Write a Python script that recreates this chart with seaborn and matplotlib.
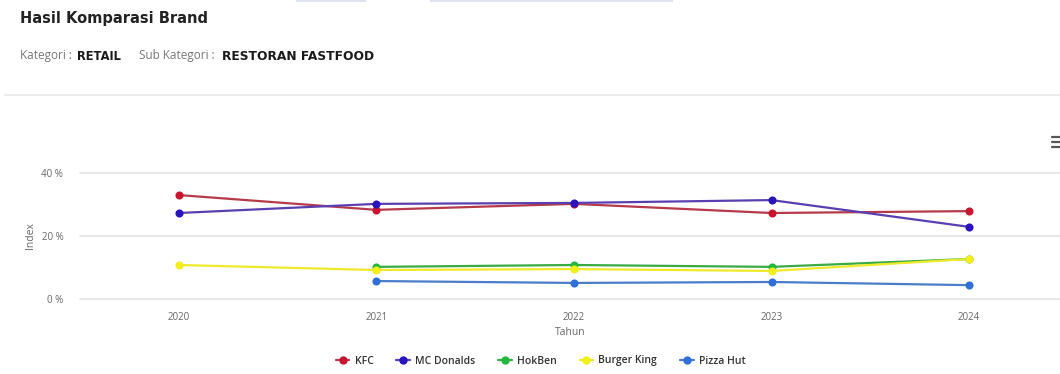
import matplotlib
matplotlib.use("Agg")
import matplotlib.pyplot as plt
from matplotlib.lines import Line2D
from matplotlib.patches import Rectangle
import seaborn as sns
import pandas as pd
import numpy as np

years = [2020, 2021, 2022, 2023, 2024]
kfc = [33.0, 28.3, 30.2, 27.3, 27.9]
mcd = [27.3, 30.2, 30.5, 31.4, 22.9]
hokben = [None, 10.2, 10.8, 10.2, 12.7]
burger_king = [10.8, 9.2, 9.5, 8.9, 12.7]
pizza_hut = [None, 5.7, 5.1, 5.4, 4.4]
brands = ["KFC", "MC Donalds", "HokBen", "Burger King", "Pizza Hut"]
series = [kfc, mcd, hokben, burger_king, pizza_hut]
yticks = [0, 20, 40]
ytick_labels = ["0 %", "20 %", "40 %"]

colors = {"KFC": "#c8142f", "MC Donalds": "#2a12bf", "HokBen": "#22b83c",
          "Burger King": "#f2ee16", "Pizza Hut": "#2f6fd8"}
line_colors = {"KFC": "#b53a4a", "MC Donalds": "#5a3fb0", "HokBen": "#3aaa45",
               "Burger King": "#eeea2a", "Pizza Hut": "#4a7cc8"}

rows = []
for b, vals in zip(brands, series):
    for y, v in zip(years, vals):
        if v is not None:
            rows.append({"Tahun": y, "Index": v, "Brand": b})
df = pd.DataFrame(rows)

sns.set_style("white")
plt.rcParams["font.family"] = ["Open Sans", "DejaVu Sans"]

W, H = 1060, 374
fig = plt.figure(figsize=(W / 100, H / 100), dpi=100)
fig.patch.set_facecolor("white")

left, right = 80 / W, 1.0
bottom, top = 1 - 299 / H, 1 - 173 / H
ax = fig.add_axes([left, bottom, right - left, top - bottom])

for yt in yticks:
    ax.axhline(yt, color="#e3e3e3", lw=1.2, zorder=0, clip_on=False)

for b in brands:
    sub = df[df["Brand"] == b]
    sns.lineplot(data=sub, x="Tahun", y="Index", ax=ax, color=line_colors[b],
                 lw=1.6, legend=False, zorder=2)
    sns.scatterplot(data=sub, x="Tahun", y="Index", ax=ax, color=colors[b],
                    s=34, edgecolor=colors[b], linewidth=0, legend=False,
                    zorder=3, clip_on=False)

ax.set_xlim(2019.5, 2024.46)
ax.set_ylim(0, 40)
ax.set_xticks(years)
ax.set_xticklabels([str(y) for y in years], fontsize=7, color="#666666")
ax.set_yticks(yticks)
ax.set_yticklabels(ytick_labels, fontsize=7, color="#666666")
ax.tick_params(axis="x", length=0, pad=9)
ax.tick_params(axis="y", length=0, pad=12)
for s in ax.spines.values():
    s.set_visible(False)
ax.set_xlabel("Tahun", fontsize=7.5, color="#666666", labelpad=3)
ax.set_ylabel("Index", fontsize=7.5, color="#666666", labelpad=4)
ax.patch.set_alpha(0)

handles = [Line2D([0], [0], color=line_colors[b], lw=1.6, marker="o",
                  markersize=5, markerfacecolor=colors[b],
                  markeredgecolor=colors[b]) for b in brands]
leg = fig.legend(handles, brands, loc="center", bbox_to_anchor=(0.51, 1 - 361 / H),
                 ncol=5, frameon=False, fontsize=7.5, handlelength=1.3,
                 handletextpad=0.5, columnspacing=2.2)
for t in leg.get_texts():
    t.set_color("#333333")
    t.set_fontweight("semibold")

# header
fig.text(20 / W, 1 - 18 / H, "Hasil Komparasi Brand", fontsize=10.5,
         fontweight="bold", color="#222222", va="center", ha="left",
         family=["DejaVu Sans"])
fig.text(20 / W, 1 - 56 / H, "Kategori :", fontsize=8.5, color="#777777",
         va="center", ha="left")
fig.text(77 / W, 1 - 56 / H, "RETAIL", fontsize=8.3, color="#1a1a1a",
         fontweight="bold", va="center", ha="left", family=["DejaVu Sans"])
fig.text(139 / W, 1 - 56 / H, "Sub Kategori :", fontsize=8.5, color="#777777",
         va="center", ha="left")
fig.text(222 / W, 1 - 56 / H, "RESTORAN FASTFOOD", fontsize=8.8, color="#1a1a1a",
         fontweight="bold", va="center", ha="left", family=["DejaVu Sans"])

# separator line
fig.add_artist(Line2D([5 / W, 1.0], [1 - 95 / H, 1 - 95 / H], color="#ebebeb",
                      lw=1.5, transform=fig.transFigure))
# partial top bars
fig.add_artist(Rectangle((296 / W, 1 - 2 / H), 70 / W, 2 / H, color="#dfe3f0",
                         transform=fig.transFigure, lw=0))
fig.add_artist(Rectangle((430 / W, 1 - 2 / H), 243 / W, 2 / H, color="#dfe3f0",
                         transform=fig.transFigure, lw=0))
# menu icon
for yy in (137, 142, 147):
    fig.add_artist(Line2D([1052 / W, 1.0], [1 - yy / H, 1 - yy / H],
                          color="#555555", lw=1.6, transform=fig.transFigure))

fig.savefig("out.png", dpi=100, facecolor="white")
